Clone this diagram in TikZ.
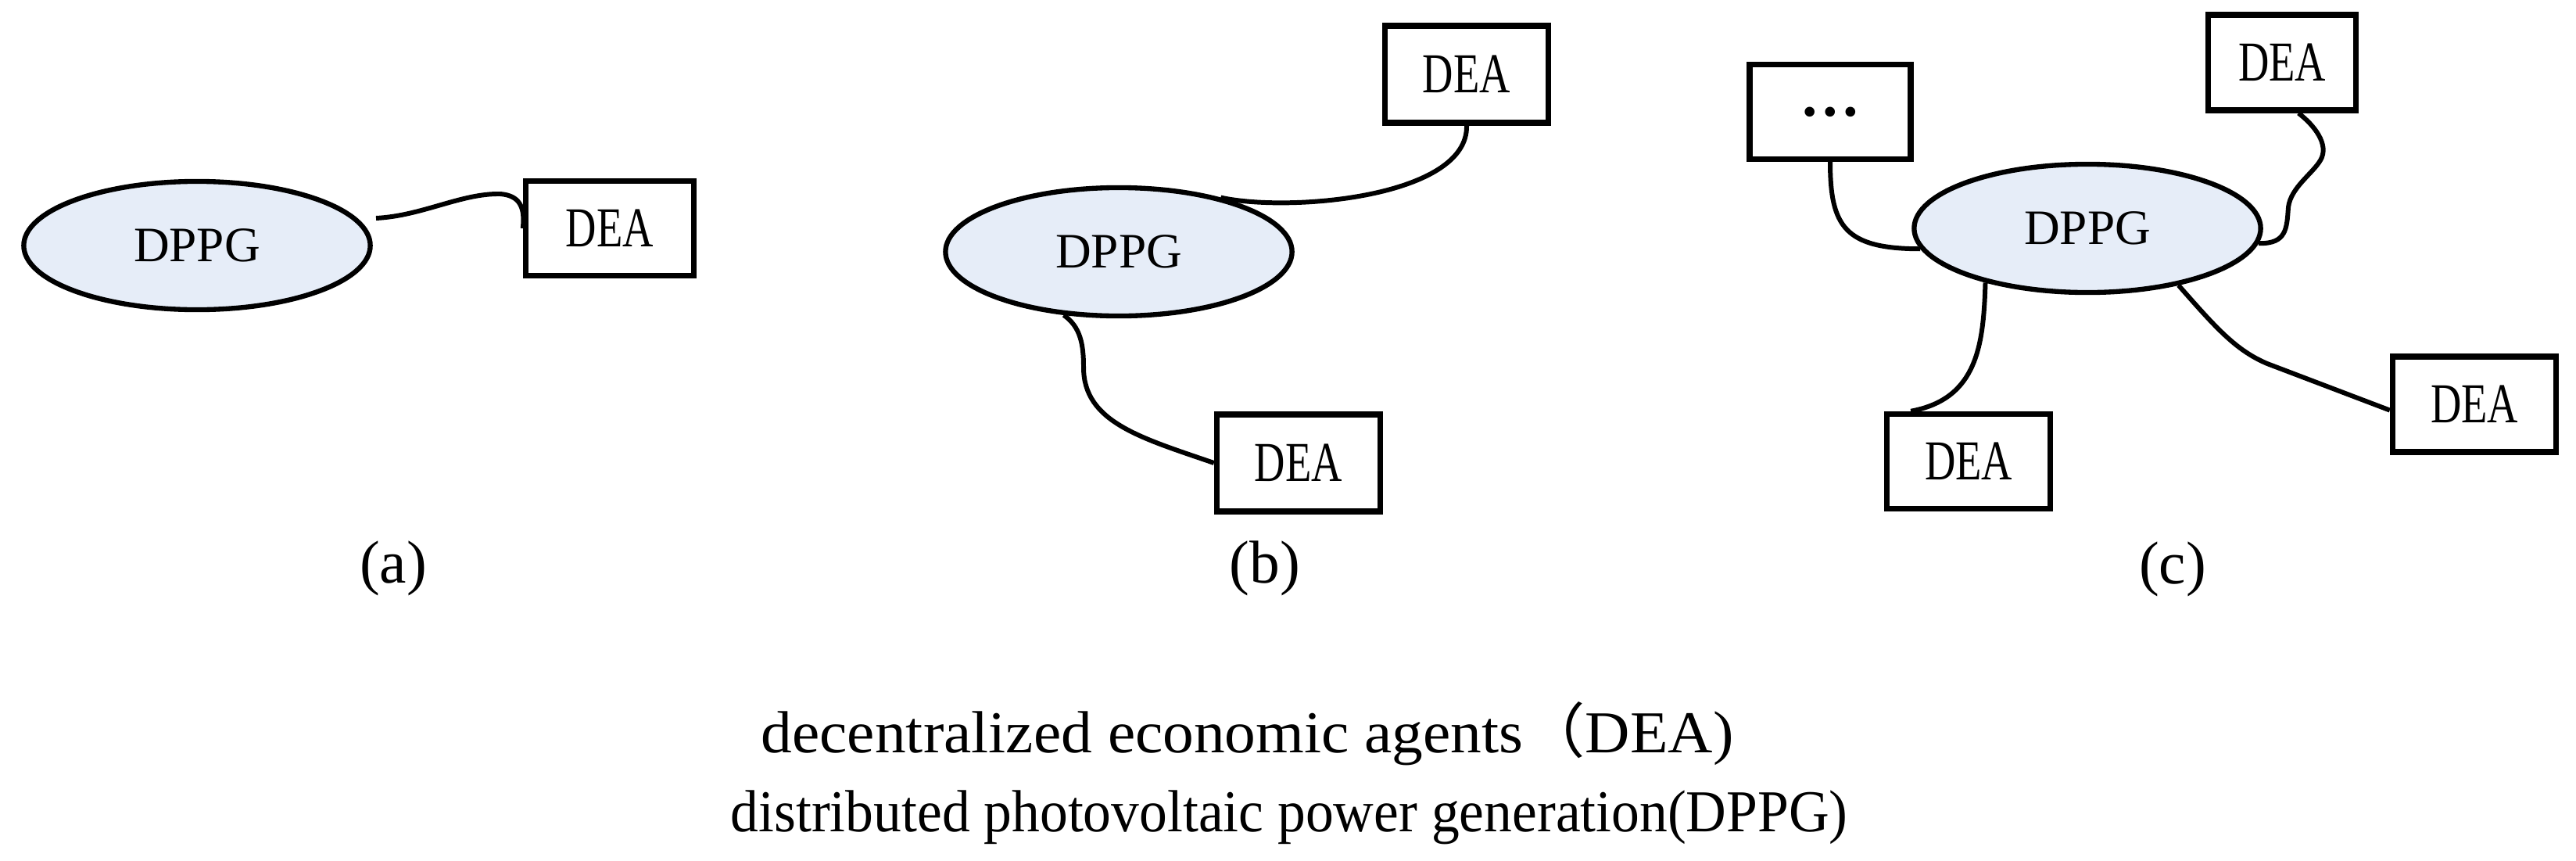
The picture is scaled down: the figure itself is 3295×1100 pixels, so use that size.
\documentclass[tikz,border=0pt]{standalone}
\usepackage{fontspec}
\usepackage{graphicx}
\setmainfont{Liberation Serif}
\newfontfamily\cjkfont{Noto Sans CJK SC}
\usetikzlibrary{shapes.geometric}
\definecolor{dppgfill}{RGB}{230,237,248}
\newcommand\agenttext{\resizebox{1.12cm}{\height}{DEA}}
\begin{document}
\begin{tikzpicture}[x=0.01cm,y=-0.01cm,
  dppg/.style={ellipse,draw,line width=1.8pt,fill=dppgfill,inner sep=0pt,
    minimum width=4.43cm,minimum height=1.64cm,font=\fontsize{18}{20}\selectfont},
  agent/.style={rectangle,draw,line width=2.1pt,inner sep=0pt,
    minimum width=2.09cm,minimum height=1.22cm,font=\fontsize{20.5}{22}\selectfont},
  link/.style={line width=1.7pt},
  sublabel/.style={font=\fontsize{22}{24}\selectfont,inner sep=0pt},
  captext/.style={font=\fontsize{21.6}{24}\selectfont,inner sep=0pt,anchor=base west}]
\useasboundingbox (0,0) rectangle (3295,1100);

% (a)
\node[dppg] (ea) at (252,314) {DPPG};
\node[agent,minimum width=2.15cm,minimum height=1.21cm] (a1) at (780,292) {\agenttext};
\coordinate (a0) at (481,279);
\draw[link] (a0) .. controls (540,276) and (590,247) .. (640,248)
  .. controls (664,250) and (672,264) .. (a1.west);

% (b)
\node[dppg] (eb) at (1431,322) {DPPG};
\node[agent,minimum height=1.24cm] (b1) at (1876,95) {\agenttext};
\node[agent,minimum height=1.24cm] (b2) at (1661,592) {\agenttext};
\draw[link] (eb.28) .. controls (1650,272) and (1878,252) .. (b1.south);
\draw[link] (eb.-131) .. controls (1382,418) and (1386,440) .. (1386,470)
  .. controls (1386,540) and (1460,560) .. (b2.west);

% (c)
\node[dppg] (ec) at (2670,292) {DPPG};
\node[agent,minimum width=2.06cm,minimum height=1.21cm,font=\fontsize{22}{24}\selectfont\bfseries] (c0) at (2341,143) {…};
\node[agent,minimum width=1.89cm] (c1) at (2919,80) {\agenttext};
\node[agent] (c4) at (3165,517) {\agenttext};
\node[agent,minimum height=1.21cm] (c3) at (2518,590) {\agenttext};
\draw[link] (c0.south) .. controls (2341,290) and (2360,318) .. (ec.-173);
\draw[link] (c1.-72) .. controls (2960,160) and (2980,185) .. (2968,205)
  .. controls (2958,222) and (2930,240) .. (2927,265)
  .. controls (2925,292) and (2925,312) .. (ec.-5);
\draw[link] (ec.-152) .. controls (2537,440) and (2530,510) .. (c3.139);
\draw[link] (ec.-32) .. controls (2835,420) and (2860,448) .. (2900,465)
  -- (c4.184);

% sub-figure labels
\node[sublabel] (la) at (503,727) {(a)};
\node[sublabel] (lb) at (1618,727) {(b)};
\node[sublabel] (lc) at (2779,728) {(c)};

% caption
\node[captext] (cap1) at (973,962) {\resizebox{12.43cm}{\height}{decentralized economic agents{\cjkfont （}DEA)}};
\node[captext] (cap2) at (934,1063) {\resizebox{14.28cm}{\height}{distributed photovoltaic power generation(DPPG)}};
\end{tikzpicture}
\end{document}
